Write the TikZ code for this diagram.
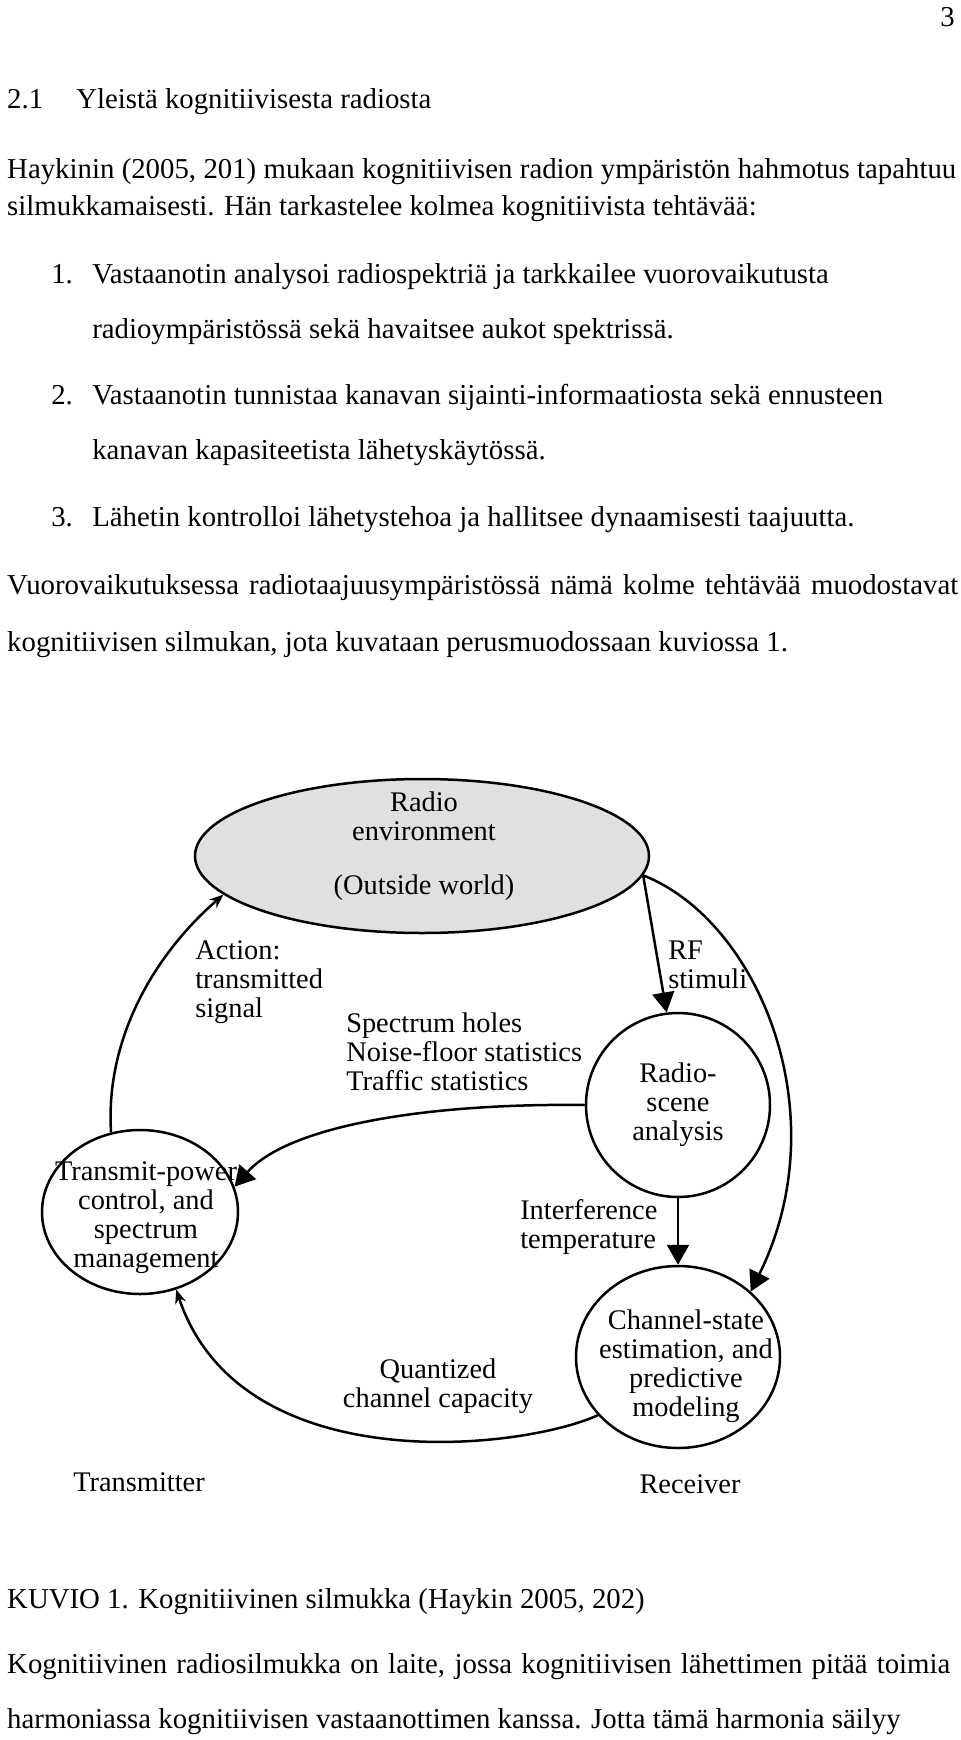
\documentclass[tikz,border=0pt]{standalone}
\usepackage{fontspec}
\setmainfont{Liberation Serif}
\usetikzlibrary{arrows.meta,shapes.geometric}

\begin{document}
\begin{tikzpicture}[x=0.5pt, y=-0.5pt, line width=1.25pt,
    para/.style = {inner sep=0pt, anchor=base west, font=\fontsize{14.4}{17}\selectfont},
    stage/.style = {draw, inner sep=0pt},
    inside/.style = {inner sep=0pt, align=center, font=\fontsize{14.2}{14.5}\selectfont},
    lbl/.style = {inner sep=0pt, align=left, font=\fontsize{14.2}{14.5}\selectfont},
    flow/.style = {-{Triangle[length=10pt,width=11pt]}},
    loopline/.style = {-{Stealth[length=7pt,width=5.5pt]}}]

    \useasboundingbox (0,0) rectangle (960,1740);
    \fill[white] (0,0) rectangle (960,1740);

    % page text
    \node[para, anchor=base east] (num) at (956,26) {3};
    \node[para] (h1) at (6,108) {2.1};
    \node[para] (h2) at (75,108) {Yleistä kognitiivisesta radiosta};
    \node[para] (a1) at (6,178) {\makebox[474.5pt][s]{Haykinin (2005, 201) mukaan kognitiivisen radion ympäristön hahmotus tapahtuu}};
    \node[para] (a2) at (6,215) {silmukkamaisesti. Hän tarkastelee kolmea kognitiivista tehtävää:};
    \node[para] (n1) at (50,283) {1.};
    \node[para] (i1a) at (91,283) {Vastaanotin analysoi radiospektriä ja tarkkailee vuorovaikutusta};
    \node[para] (i1b) at (91,338) {radioympäristössä sekä havaitsee aukot spektrissä.};
    \node[para] (n2) at (50,404) {2.};
    \node[para] (i2a) at (91,404) {Vastaanotin tunnistaa kanavan sijainti-informaatiosta sekä ennusteen};
    \node[para] (i2b) at (91,459) {kanavan kapasiteetista lähetyskäytössä.};
    \node[para] (n3) at (50,526) {3.};
    \node[para] (i3) at (91,526) {Lähetin kontrolloi lähetystehoa ja hallitsee dynaamisesti taajuutta.};
    \node[para] (b1) at (6,594) {\makebox[475.5pt][s]{Vuorovaikutuksessa radiotaajuusympäristössä nämä kolme tehtävää muodostavat}};
    \node[para] (b2) at (6,651) {kognitiivisen silmukan, jota kuvataan perusmuodossaan kuviossa 1.};

    % stages of the loop
    \node[stage, ellipse, fill=black!12, minimum width=227pt, minimum height=77pt] (env) at (422,856) {};
    \node[stage, circle, minimum size=92pt] (rs) at (678,1105) {};
    \node[stage, ellipse, minimum width=102pt, minimum height=91pt] (cs) at (678,1357) {};
    \node[stage, ellipse, minimum width=98pt, minimum height=82pt] (tx) at (140,1212) {};

    \node[inside] (envtxt) at (424,846) {Radio\\environment\\[12.5pt](Outside world)};
    \node[inside] (rstxt) at (678,1105) {Radio-\\scene\\analysis};
    \node[inside] (cstxt) at (686,1366) {Channel-state\\estimation, and\\predictive\\modeling};
    \node[inside] (txtxt) at (146,1218) {Transmit-power\\control, and\\spectrum\\management};

    % labels
    \node[lbl, anchor=north west] (rf) at (667,940) {RF\\stimuli};
    \node[lbl, anchor=north west] (act) at (194,939) {Action:\\transmitted\\signal};
    \node[lbl, anchor=north west] (hol) at (345,1012) {Spectrum holes\\Noise-floor statistics\\Traffic statistics};
    \node[lbl, anchor=north west] (itf) at (519,1198) {Interference\\temperature};
    \node[lbl, align=center, anchor=north] (qcc) at (438,1358) {Quantized\\channel capacity};
    \node[lbl, anchor=base] (trx) at (139,1491) {Transmitter};
    \node[lbl, anchor=base] (rcv) at (690,1493) {Receiver};

    % connectors
    \draw[flow] (env.-5) -- (rs.97);
    \draw[flow] (env.-5) .. controls +(115,45) and +(88,-178) .. (cs.42);
    \draw[flow] (rs) -- (cs);
    \draw[flow] (rs.180) .. controls +(-153,-2) and +(55,-62) .. (tx.15);
    \draw[loopline] (cs.216) .. controls +(-77,35) and +(64,192) .. (tx.-65);
    \draw[loopline] (tx.110) .. controls +(-6,-96) and +(-67,58) .. (env.191);

    % caption and text below
    \node[para] (cap) at (6,1608) {KUVIO 1. Kognitiivinen silmukka (Haykin 2005, 202)};
    \node[para] (c1) at (6,1673) {\makebox[471.5pt][s]{Kognitiivinen radiosilmukka on laite, jossa kognitiivisen lähettimen pitää toimia}};
    \node[para] (c2) at (6,1728) {harmoniassa kognitiivisen vastaanottimen kanssa. Jotta tämä harmonia säilyy};
\end{tikzpicture}
\end{document}
